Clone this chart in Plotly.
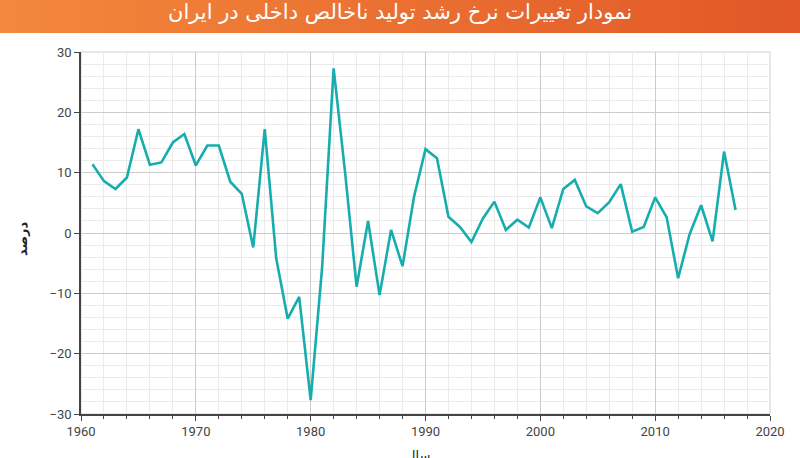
import plotly.graph_objects as go

years = list(range(1961, 2018))
growth = [11.4, 8.6, 7.3, 9.2, 17.2, 11.3, 11.7, 15.0, 16.4, 11.2,
          14.5, 14.5, 8.5, 6.5, -2.4, 17.2, -4.2, -14.2, -10.6, -27.7,
          -5.6, 27.3, 10.0, -8.9, 2.0, -10.3, 0.5, -5.5, 6.0, 13.9,
          12.4, 2.7, 1.0, -1.5, 2.4, 5.2, 0.5, 2.2, 0.9, 5.9,
          0.8, 7.3, 8.8, 4.4, 3.3, 5.1, 8.1, 0.2, 1.0, 5.9,
          2.6, -7.5, -0.2, 4.6, -1.4, 13.5, 3.8]

title_text = "نمودار تغییرات نرخ رشد تولید ناخالص داخلی در ایران"
y_title = "درصد"
x_title = "سال"

PW, PH = 689, 362  # plot area size in px
L, T = 81, 52

def px_x(x):
    return (x - L) / PW

def px_y(y):
    return (T + PH - y) / PH

fig = go.Figure()
fig.add_trace(go.Scatter(x=years, y=growth, mode="lines",
                         line=dict(color="#17ADAE", width=2.6),
                         hoverinfo="x+y"))

shapes = []
n = 40
c0 = (243, 136, 60)
c1 = (226, 88, 40)
for i in range(n):
    t = i / (n - 1)
    col = tuple(int(c0[k] + (c1[k] - c0[k]) * t) for k in range(3))
    shapes.append(dict(type="rect", xref="paper", yref="paper",
                       x0=px_x(i * 800 / n), x1=px_x((i + 1.05) * 800 / n),
                       y0=px_y(33), y1=px_y(-2),
                       fillcolor="rgb(%d,%d,%d)" % col, line=dict(width=0), layer="below"))
shapes.append(dict(type="rect", xref="paper", yref="paper", x0=0, x1=1, y0=0, y1=1,
                   line=dict(color="#cfcfcf", width=1), layer="below"))

fig.update_layout(
    width=800, height=458,
    margin=dict(l=L, r=800 - L - PW, t=T, b=458 - T - PH),
    paper_bgcolor="white", plot_bgcolor="white",
    showlegend=False,
    shapes=shapes,
    font=dict(family="Roboto, DejaVu Sans, sans-serif", size=13, color="#444"),
    annotations=[
        dict(text=title_text, xref="paper", yref="paper",
             x=px_x(400), y=px_y(12), xanchor="center", yanchor="middle",
             showarrow=False, font=dict(family="DejaVu Sans, sans-serif", size=21, color="white")),
        dict(text=x_title, xref="paper", yref="paper", x=px_x(418), y=px_y(446),
             xanchor="center", yanchor="top", showarrow=False,
             font=dict(family="DejaVu Sans, sans-serif", size=13, color="#222")),
        dict(text="<b>" + y_title + "</b>", xref="paper", yref="paper", x=px_x(22), y=px_y(238),
             xanchor="center", yanchor="middle", textangle=-90, showarrow=False,
             font=dict(family="DejaVu Sans, sans-serif", size=13, color="#222")),
    ],
    xaxis=dict(range=[1960, 2020], dtick=10, tick0=1960, automargin=False,
               showgrid=True, gridcolor="#cccccc", gridwidth=1,
               showline=True, linecolor="#444", linewidth=1.5,
               ticks="outside", ticklen=5, tickcolor="#444",
               minor=dict(dtick=2, showgrid=True, gridcolor="#ebebeb",
                          ticks="outside", ticklen=3, tickcolor="#444"),
               zeroline=False, fixedrange=True),
    yaxis=dict(range=[-30, 30], dtick=10, tick0=0, automargin=False,
               showgrid=True, gridcolor="#cccccc", gridwidth=1,
               showline=True, linecolor="#444", linewidth=1.5,
               ticks="outside", ticklen=5, tickcolor="#444",
               minor=dict(dtick=2, showgrid=True, gridcolor="#ebebeb"),
               zeroline=False, fixedrange=True),
)

fig.write_html("out.html", config={"displayModeBar": False},
               post_script="document.body.style.margin='0';")
